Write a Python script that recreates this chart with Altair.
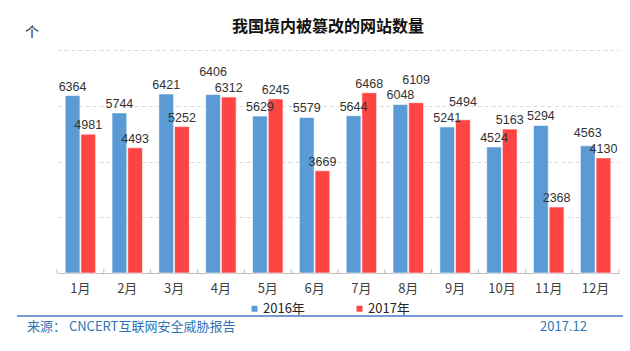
import altair as alt
import pandas as pd

months = ["1月", "2月", "3月", "4月", "5月", "6月", "7月", "8月", "9月", "10月", "11月", "12月"]
series = ["2016年", "2017年"]
v2016 = [6364, 5744, 6421, 6406, 5629, 5579, 5644, 6048, 5241, 4524, 5294, 4563]
v2017 = [4981, 4493, 5252, 6312, 6245, 3669, 6468, 6109, 5494, 5163, 2368, 4130]
y_ticks = [0, 2000, 4000, 6000, 8000]

title_text = "我国境内被篡改的网站数量"
unit_text = "个"
source_text = "来源： CNCERT互联网安全威胁报告"
date_text = "2017.12"

rows = []
for m, a, b in zip(months, v2016, v2017):
    rows.append({"month": m, "series": series[0], "value": a})
    rows.append({"month": m, "series": series[1], "value": b})
df = pd.DataFrame(rows)
mdf = pd.DataFrame({"month": months})

W, H = 562, 223
NUM = "Liberation Sans"
CJK = "Noto Sans CJK SC"
P = 0.35
GAP = 560  # value units needed so that two labels of a pair do not collide

xscale = alt.Scale(domain=months, paddingInner=P, paddingOuter=P / 2)
xoff = alt.XOffset("series:N", scale=alt.Scale(domain=series, paddingInner=0.06))
yscale = alt.Scale(domain=[0, 8000])
yenc = alt.Y("value:Q", scale=yscale,
             axis=alt.Axis(values=y_ticks, labels=False, ticks=False, domain=False,
                           title=None, grid=True, gridDash=[4, 3], gridColor="#d9d9d9"))

base = alt.Chart(df)

bars = base.mark_bar(stroke="white", strokeWidth=0.6).encode(
    x=alt.X("month:N", scale=xscale, sort=months,
            axis=alt.Axis(title=None, labelAngle=0, ticks=False, domainColor="#bfbfbf",
                          labelFont=CJK, labelFontSize=13, labelColor="#404040",
                          labelPadding=9, grid=False)),
    xOffset=xoff,
    y=yenc,
    color=alt.Color("series:N", scale=alt.Scale(domain=series, range=["#5B9BD5", "#FF4444"]),
                    legend=alt.Legend(orient="none", legendX=191, legendY=252,
                                      direction="horizontal", title=None,
                                      symbolType="square", symbolSize=36, symbolStrokeWidth=0,
                                      labelFont=CJK, labelFontSize=13, labelColor="#262626",
                                      labelOffset=2, columnPadding=48)),
)

labels = base.transform_joinaggregate(
    total="sum(value)", groupby=["month"]
).transform_calculate(
    other="datum.total - datum.value"
).transform_calculate(
    label_y=f"datum.value >= datum.other ? max(datum.value, datum.other + {GAP}) : datum.value"
).mark_text(baseline="bottom", dy=-2, fontSize=12.5, font=NUM, color="#333333").encode(
    x=alt.X("month:N", scale=xscale, sort=months),
    xOffset=xoff,
    y=alt.Y("label_y:Q", scale=yscale),
    text="value:Q",
)

main = alt.layer(bars, labels)

ticks = alt.Chart(mdf).mark_rule(color="#bfbfbf").encode(
    x=alt.X("month:N", sort=months, bandPosition=0,
            scale=alt.Scale(domain=months, paddingInner=0, paddingOuter=0), axis=None),
    y=alt.value(H),
    y2=alt.value(H - 4),
)
end_tick = alt.Chart(mdf.head(1)).mark_rule(color="#bfbfbf").encode(
    x=alt.value(W), y=alt.value(H), y2=alt.value(H - 4))

title = alt.Chart(pd.DataFrame({"t": [title_text]})).mark_text(
    font=CJK, fontSize=16, fontWeight="bold", color="#111111",
    align="center", baseline="middle").encode(
    x=alt.value(271), y=alt.value(-23), text="t:N")
unit = alt.Chart(pd.DataFrame({"t": [unit_text]})).mark_text(
    font=CJK, fontSize=14, color="#222222", align="center", baseline="middle").encode(
    x=alt.value(-25), y=alt.value(-17), text="t:N")
footer_line = alt.Chart(mdf.head(1)).mark_rule(color="#4a78c2", strokeWidth=1.5).encode(
    x=alt.value(-40), x2=alt.value(566), y=alt.value(266))
src = alt.Chart(pd.DataFrame({"t": [source_text]})).mark_text(
    font=CJK, fontSize=13, color="#2e75b6", align="left", baseline="middle").encode(
    x=alt.value(-30), y=alt.value(277), text="t:N")
date = alt.Chart(pd.DataFrame({"t": [date_text]})).mark_text(
    font=CJK, fontSize=13, color="#2e75b6", align="left", baseline="middle").encode(
    x=alt.value(483), y=alt.value(277), text="t:N")

chart = alt.layer(main, ticks, end_tick, title, unit, footer_line, src, date).resolve_scale(
    x="independent"
).properties(
    width=W, height=H,
    padding={"left": 57, "top": 50, "right": 11, "bottom": 78},
    autosize=alt.AutoSizeParams(type="none"),
    background="white",
).configure_view(stroke=None)

chart.save("out.html", embed_options={"renderer": "svg", "actions": False})
